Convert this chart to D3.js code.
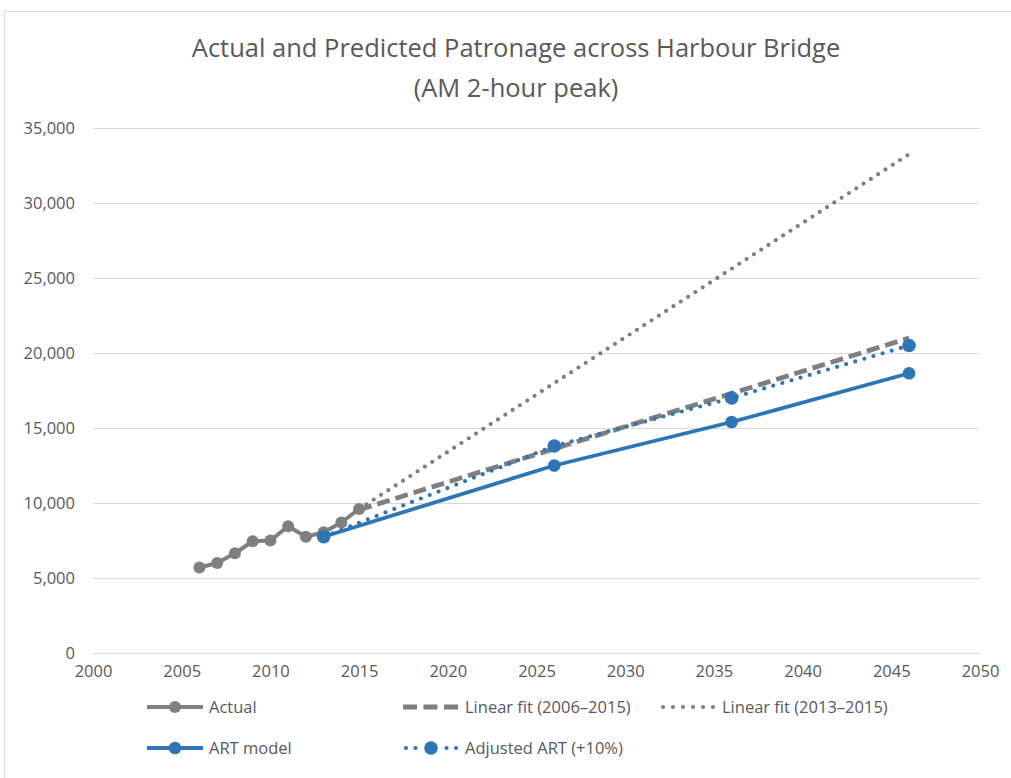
<!DOCTYPE html>
<html>
<head>
<meta charset="utf-8">
<script src="https://cdn.jsdelivr.net/npm/d3@7/dist/d3.min.js"></script>
<style>
  body { margin: 0; background: #fff; }
  text { font-family: "Open Sans", sans-serif; fill: #595959; }
</style>
</head>
<body>
<div id="chart"></div>
<script>
// Data
const actualYears = [2006, 2007, 2008, 2009, 2010, 2011, 2012, 2013, 2014, 2015];
const actualValues = [5700, 6000, 6650, 7450, 7500, 8450, 7750, 8050, 8700, 9600];

const fitAllYears = [2015, 2046];
const fitAllValues = [9550, 21000];

const fitRecentYears = [2015, 2046];
const fitRecentValues = [9600, 33250];

const artYears = [2013, 2026, 2036, 2046];
const artValues = [7750, 12500, 15400, 18650];
const adjustedValues = [7750, 13800, 17000, 20500];

const xTicks = [2000, 2005, 2010, 2015, 2020, 2025, 2030, 2035, 2040, 2045, 2050];
const yTicks = [0, 5000, 10000, 15000, 20000, 25000, 30000, 35000];

const grey = "#7f7f7f";
const blue = "#2e75b6";

const width = 1011;
const height = 778;

const svg = d3.select("#chart")
    .append("svg")
    .attr("width", width)
    .attr("height", height);

// Chart border
svg.append("rect")
    .attr("x", 4.5)
    .attr("y", 11.5)
    .attr("width", 1100)
    .attr("height", 800)
    .attr("fill", "none")
    .attr("stroke", "#d9d9d9");

// Title
svg.append("text")
    .attr("x", 516)
    .attr("y", 57)
    .attr("text-anchor", "middle")
    .style("font-size", "25.5px")
    .text("Actual and Predicted Patronage across Harbour Bridge");
svg.append("text")
    .attr("x", 516)
    .attr("y", 97)
    .attr("text-anchor", "middle")
    .style("font-size", "25.5px")
    .text("(AM 2-hour peak)");

// Scales
const x = d3.scaleLinear().domain([2000, 2050]).range([93, 980]);
const y = d3.scaleLinear().domain([0, 35000]).range([653, 128]);

// Horizontal grid lines
svg.append("g")
    .selectAll("line")
    .data(yTicks)
    .enter()
    .append("line")
    .attr("x1", x(2000))
    .attr("x2", x(2050))
    .attr("y1", d => Math.round(y(d)) + 0.5)
    .attr("y2", d => Math.round(y(d)) + 0.5)
    .attr("stroke", "#d9d9d9")
    .attr("stroke-width", 1);

// Y-axis labels
const yAxis = svg.append("g")
    .attr("transform", "translate(83,0)")
    .call(d3.axisLeft(y).tickValues(yTicks).tickSize(0).tickPadding(8).tickFormat(d3.format(",")));
yAxis.select(".domain").remove();
yAxis.selectAll("text")
    .style("font-size", "16.5px")
    .attr("fill", "#595959")
    .attr("x", -8)
    .attr("dy", "0.36em");

// X-axis labels
const xAxis = svg.append("g")
    .attr("transform", "translate(0,659)")
    .call(d3.axisBottom(x).tickValues(xTicks).tickSize(0).tickPadding(6).tickFormat(d3.format("d")));
xAxis.select(".domain").remove();
xAxis.selectAll("text")
    .style("font-size", "16.5px")
    .attr("fill", "#595959");

const line = d3.line()
    .x(d => x(d[0]))
    .y(d => y(d[1]));

const zip = (a, b) => a.map((v, i) => [v, b[i]]);

// Series definitions (built from the arrays above)
const series = [
    { name: "Actual", pts: zip(actualYears, actualValues), color: grey, width: 4, dash: null, cap: "round", r: 6 },
    { name: "Linear fit (2006\u20132015)", pts: zip(fitAllYears, fitAllValues), color: grey, width: 4.8, dash: "13 6", cap: "butt", r: 0 },
    { name: "Linear fit (2013\u20132015)", pts: zip(fitRecentYears, fitRecentValues), color: grey, width: 4.2, dash: "0 8.7", cap: "round", r: 0 },
    { name: "ART model", pts: zip(artYears, artValues), color: blue, width: 3.8, dash: null, cap: "round", r: 6.3 },
    { name: "Adjusted ART (+10%)", pts: zip(artYears, adjustedValues), color: blue, width: 4.2, dash: "0 9.5", cap: "round", r: 6.8 }
];

series.forEach(s => {
    svg.append("path")
        .datum(s.pts)
        .attr("d", line)
        .attr("fill", "none")
        .attr("stroke", s.color)
        .attr("stroke-width", s.width)
        .attr("stroke-linecap", s.cap)
        .attr("stroke-linejoin", "round")
        .attr("stroke-dasharray", s.dash);

    if (s.r > 0) {
        svg.append("g")
            .selectAll("circle")
            .data(s.pts)
            .enter()
            .append("circle")
            .attr("cx", d => x(d[0]))
            .attr("cy", d => y(d[1]))
            .attr("r", s.r)
            .attr("fill", s.color);
    }
});

// Legend
const legendPos = [[147, 707], [403, 707], [660, 707], [147, 748], [403, 748]];
series.forEach((s, i) => {
    const [lx, ly] = legendPos[i];
    const g = svg.append("g").attr("transform", `translate(${lx},${ly})`);
    if (s.dash && s.dash.startsWith("0")) {
        // dotted symbol
        const dots = s.r > 0 ? [3, 12.5, 43.5, 53] : [3, 13, 23, 33, 43, 53];
        g.selectAll("circle.dot")
            .data(dots)
            .enter()
            .append("circle")
            .attr("cx", d => d)
            .attr("cy", 0)
            .attr("r", s.width / 2)
            .attr("fill", s.color);
    } else {
        g.append("line")
            .attr("x1", 0)
            .attr("x2", 56)
            .attr("y1", 0)
            .attr("y2", 0)
            .attr("stroke", s.color)
            .attr("stroke-width", s.width)
            .attr("stroke-dasharray", s.dash ? "14 6.5" : null);
    }
    if (s.r > 0) {
        g.append("circle")
            .attr("cx", 28)
            .attr("cy", 0)
            .attr("r", s.r)
            .attr("fill", s.color);
    }
    g.append("text")
        .attr("x", 62)
        .attr("y", 0)
        .attr("dy", "0.36em")
        .style("font-size", "16.5px")
        .text(s.name);
});
</script>
</body>
</html>
